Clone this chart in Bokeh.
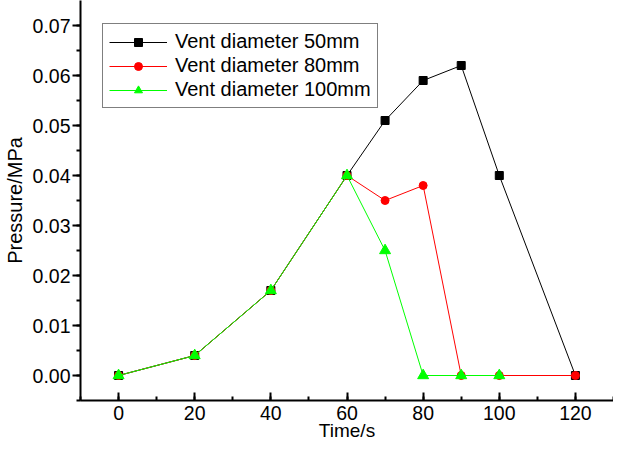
from bokeh.plotting import figure
from bokeh.models import (Range1d, SingleIntervalTicker, NumeralTickFormatter,
                          Legend, LegendItem)
from bokeh.embed import file_html
from bokeh.resources import INLINE

# ---- data ----
time_50 = [0, 20, 40, 60, 70, 80, 90, 100, 120]
p_50 = [0.000, 0.004, 0.017, 0.040, 0.051, 0.059, 0.062, 0.040, 0.000]

time_80 = [0, 20, 40, 60, 70, 80, 90, 100, 120]
p_80 = [0.000, 0.004, 0.017, 0.040, 0.035, 0.038, 0.000, 0.000, 0.000]

time_100 = [0, 20, 40, 60, 70, 80, 90, 100]
p_100 = [0.000, 0.004, 0.017, 0.040, 0.025, 0.000, 0.000, 0.000]

labels = ["Vent diameter 50mm", "Vent diameter 80mm", "Vent diameter 100mm"]
x_title = "Time/s"
y_title = "Pressure/MPa"

FONT = "Liberation Sans"

p = figure(width=613, height=443, output_backend="svg", toolbar_location=None,
           x_range=Range1d(-10, 130), y_range=Range1d(-0.005, 0.075),
           min_border_left=73, min_border_right=-8, min_border_top=-4,
           min_border_bottom=0)
p.outline_line_color = None
p.grid.visible = False
p.background_fill_color = "white"
p.border_fill_color = "white"

# series
l1 = p.line(time_50, p_50, line_color="black", line_width=1)
s1 = p.scatter(time_50, p_50, marker="square", size=8, fill_color="black", line_color="black")
l2 = p.line(time_80, p_80, line_color="#FF0000", line_width=1)
s2 = p.scatter(time_80, p_80, marker="circle", size=8, fill_color="#FF0000", line_color="#FF0000")
l3 = p.line(time_100, p_100, line_color="#00FF00", line_width=1)
s3 = p.scatter(time_100, p_100, marker="triangle", size=11, fill_color="#00FF00", line_color="#00FF00")

# x axis
xa = p.xaxis[0]
xa.ticker = SingleIntervalTicker(interval=20, num_minor_ticks=2)
xa.axis_label = x_title
xa.axis_line_width = 2
xa.major_tick_line_width = 2
xa.minor_tick_line_width = 2
xa.major_tick_in = 8
xa.major_tick_out = 0
xa.minor_tick_in = 4
xa.minor_tick_out = 0
xa.major_label_standoff = 5
xa.axis_label_standoff = -3
xa.major_label_text_font = FONT
xa.major_label_text_font_size = "19.5px"
xa.major_label_text_color = "black"
xa.axis_label_text_font = FONT
xa.axis_label_text_font_size = "19px"
xa.axis_label_text_font_style = "normal"
xa.axis_label_text_color = "black"

# y axis
ya = p.yaxis[0]
ya.ticker = SingleIntervalTicker(interval=0.01, num_minor_ticks=2)
ya.formatter = NumeralTickFormatter(format="0.00")
ya.axis_label = y_title
ya.axis_line_width = 2
ya.major_tick_line_width = 2
ya.minor_tick_line_width = 2
ya.major_tick_in = 0
ya.major_tick_out = 8
ya.minor_tick_in = 0
ya.minor_tick_out = 4
ya.major_label_standoff = 2
ya.axis_label_standoff = 4
ya.major_label_text_font = FONT
ya.major_label_text_font_size = "19.5px"
ya.major_label_text_color = "black"
ya.axis_label_text_font = FONT
ya.axis_label_text_font_size = "20px"
ya.axis_label_text_font_style = "normal"
ya.axis_label_text_color = "black"

legend = Legend(items=[
    LegendItem(label=labels[0], renderers=[l1, s1]),
    LegendItem(label=labels[1], renderers=[l2, s2]),
    LegendItem(label=labels[2], renderers=[l3, s3]),
], location=(22, 292))
legend.margin = 0
legend.padding = 6
legend.spacing = 1
legend.label_height = 20
legend.glyph_height = 20
legend.glyph_width = 58
legend.label_standoff = 8
legend.label_text_font = FONT
legend.label_text_font_size = "20px"
legend.label_text_color = "black"
legend.border_line_color = "black"
legend.border_line_width = 1
legend.background_fill_color = "white"
legend.background_fill_alpha = 1
p.add_layout(legend, "center")

open("out.html", "w").write(file_html(p, INLINE))
